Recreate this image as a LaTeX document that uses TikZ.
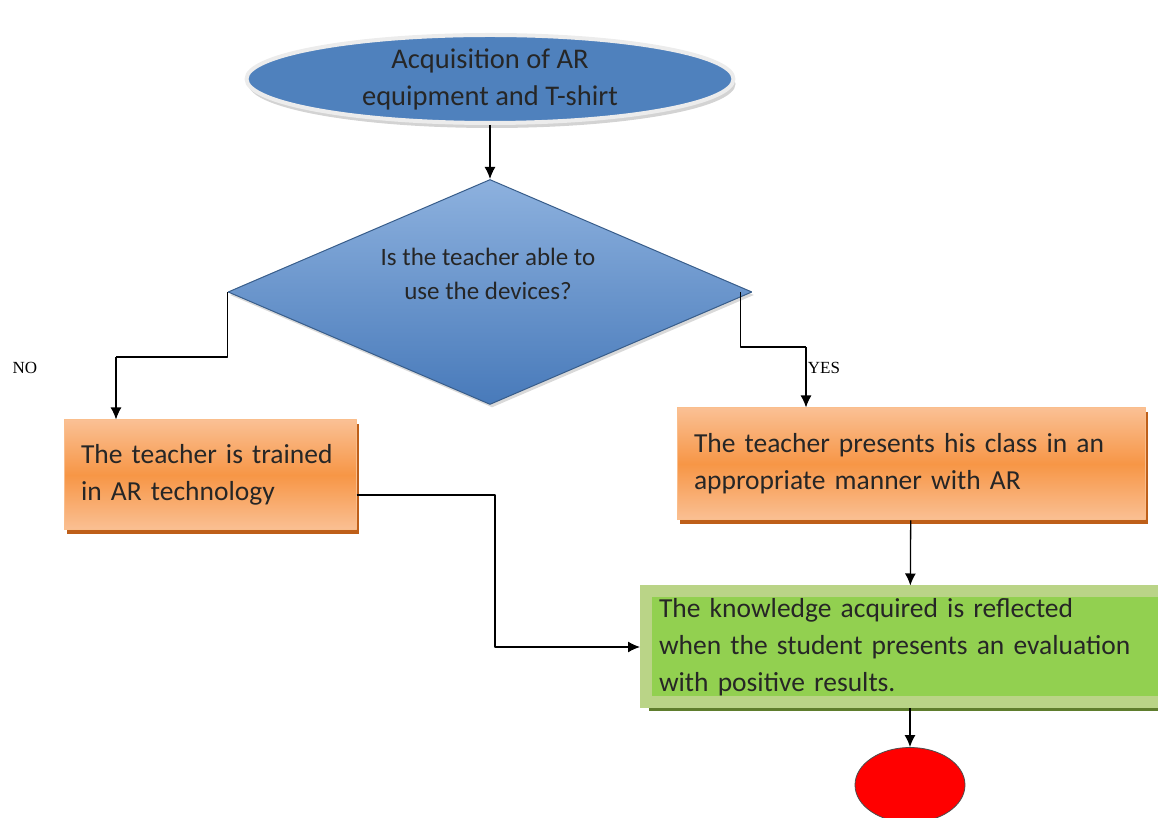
\documentclass[tikz,border=0pt]{standalone}
\usepackage{fontspec}
\setmainfont{Carlito}
\newfontfamily\labelfont{Liberation Serif}
\usetikzlibrary{shapes.geometric,arrows.meta,shadows}
\definecolor{acqblue}{RGB}{79,129,189}
\definecolor{acqline}{RGB}{236,236,236}
\definecolor{devtop}{RGB}{141,177,222}
\definecolor{devbot}{RGB}{72,122,186}
\definecolor{devline}{RGB}{56,93,138}
\definecolor{orangemid}{RGB}{247,150,70}
\definecolor{orangelight}{RGB}{250,192,148}
\definecolor{orangeline}{RGB}{250,190,140}
\definecolor{orangeshadow}{RGB}{190,95,25}
\definecolor{greenfill}{RGB}{146,208,80}
\definecolor{greenframe}{RGB}{186,212,135}
\definecolor{greenshadow}{RGB}{95,125,45}
\definecolor{stopred}{RGB}{255,0,0}
\begin{document}
\begin{tikzpicture}[>={Latex[length=12bp,width=11bp]},line join=bevel,
  flowline/.style={draw=black,line width=1.3bp},
  boxtext/.style={font=\fontsize{27.5bp}{37bp}\selectfont,align=left,text=black!85},
  orangebox/.style={boxtext,rectangle,draw=orangeline,line width=1bp,
    top color=orangelight,bottom color=orangelight,middle color=orangemid,
    drop shadow={shadow xshift=3bp,shadow yshift=-4bp,fill=orangeshadow,opacity=1},
    inner xsep=17bp,inner ysep=0bp},
  yesno/.style={font=\labelfont\fontsize{17bp}{20bp}\selectfont,inner sep=0bp}]
%%
\useasboundingbox (0bp,0bp) rectangle (1158bp,818bp);
\node (acq) at (490bp,739bp) [ellipse,draw=acqline,line width=4bp,fill=acqblue,
    minimum width=487bp,minimum height=88bp,inner sep=0bp,
    drop shadow={shadow xshift=2bp,shadow yshift=-5bp,opacity=.35},
    font=\fontsize{28.5bp}{37bp}\selectfont,align=center,text=black!85]
    {Acquisition of AR\\equipment and T-shirt};
  \node (dev) at (490bp,526bp) [diamond,draw=devline,line width=1bp,
    top color=devtop,bottom color=devbot,minimum width=524bp,minimum height=225bp,
    inner sep=0bp,drop shadow={shadow xshift=2bp,shadow yshift=-3bp,opacity=.3}] {};
  \node (devtext) at (488bp,544bp) [font=\fontsize{25bp}{34bp}\selectfont,align=center,text=black!85]
    {Is the teacher able to\\use the devices?};
  \node (no_lbl) at (25bp,450bp) [yesno] {NO};
  \node (yes_lbl) at (824bp,450bp) [yesno] {YES};
  \node (train) at (210bp,343bp) [orangebox,text width=258bp,minimum height=110bp]
    {The teacher is trained\\in AR technology};
  \node (pres) at (911bp,354bp) [orangebox,text width=434bp,minimum height=112bp]
    {The teacher presents his class in an\\appropriate manner with AR};
  \node (know) at (910bp,171bp) [boxtext,rectangle,draw=greenframe,line width=12bp,
    line join=miter,fill=greenfill,
    drop shadow={shadow xshift=3bp,shadow yshift=-9bp,fill=greenshadow,opacity=1},
    inner xsep=13bp,inner ysep=0bp,text width=502bp,minimum height=111bp]
    {The knowledge acquired is reflected\\when the student presents an evaluation\\with positive results.};
  \node (stop) at (910bp,33bp) [ellipse,draw=black!70,line width=0.8bp,fill=stopred,
    minimum width=110bp,minimum height=75bp] {};
  \coordinate (no_bend) at (116bp,461bp);
  \coordinate (yes_bend) at (806bp,471bp);
  \coordinate (join_bend) at (495bp,323bp);
  \draw [->,flowline] (acq) -- (dev);
  \draw [flowline] (dev.west) |- (no_bend);
  \draw [->,flowline] (no_bend) -- (no_bend |- train.north);
  \draw [flowline] ([xshift=-12bp]dev.east) |- (yes_bend);
  \draw [->,flowline] (yes_bend) -- (yes_bend |- pres.north);
  \draw [->,flowline] ([yshift=-20bp]train.east) -- (join_bend) |- (know.west);
  \draw [->,flowline] (pres) -- (know);
  \draw [->,flowline] (know) -- (stop);
%
\end{tikzpicture}
\end{document}
